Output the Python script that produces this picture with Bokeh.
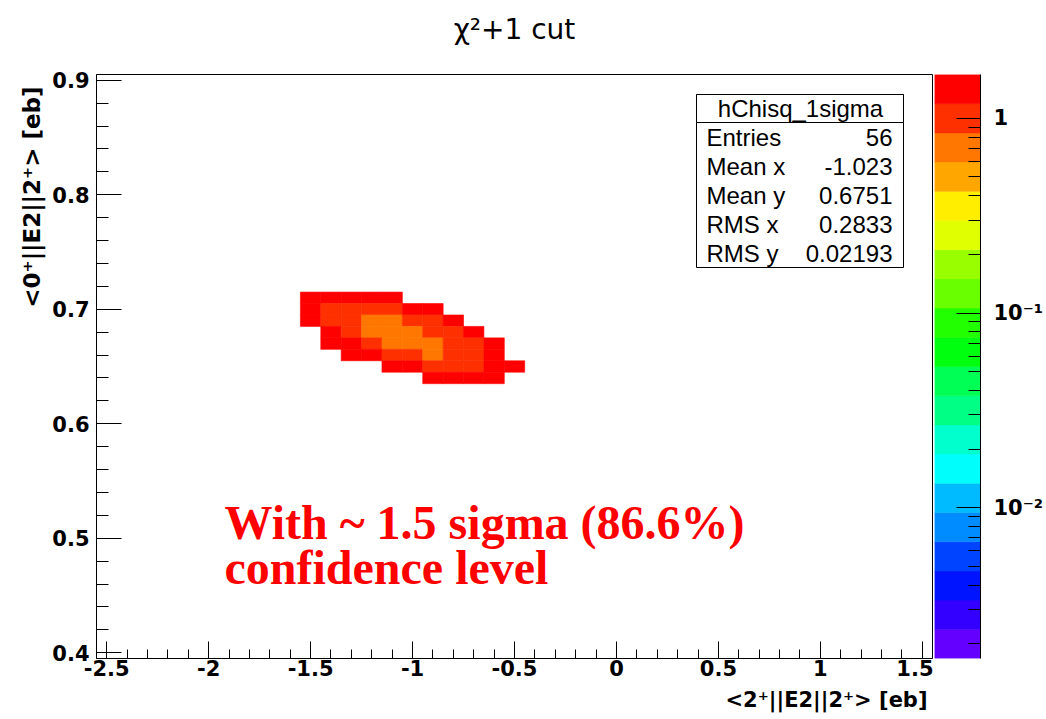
import numpy as np
from bokeh.plotting import figure
from bokeh.models import (Range1d, SingleIntervalTicker, LogTicker, CustomJSTickFormatter,
                          LogColorMapper, ColumnDataSource, Title, Label, BoxAnnotation)
from bokeh.transform import transform
from bokeh.layouts import row
from bokeh.embed import file_html
from bokeh.resources import INLINE

# ---------------- data ----------------
TITLE = "\u03c7\u00b2+1 cut"
X_LABEL = "<2\u207a||E2||2\u207a> [eb]"
Y_LABEL = "<0\u207a||E2||2\u207a> [eb]"
X_RANGE = [-2.55, 1.55]
Y_RANGE = [0.395, 0.905]
Z_RANGE = [0.00168, 1.68]
BIN_W = 0.1
BIN_H = 0.01

x_centers = [-1.5, -1.4, -1.3, -1.2, -1.1, -1.0, -0.9, -0.8, -0.7, -0.6, -0.5]
y_centers = [0.71, 0.70, 0.69, 0.68, 0.67, 0.66, 0.65, 0.64]
# bin contents (rows top -> bottom), 0 = empty bin
z_rows = [
    [1.4, 1.4, 1.4, 1.4, 1.4, 0,   0,   0,   0,   0,   0],
    [1.4, 1.0, 1.0, 1.0, 1.0, 1.4, 1.4, 0,   0,   0,   0],
    [1.4, 1.0, 1.0, 0.7, 0.7, 1.0, 1.0, 1.4, 0,   0,   0],
    [0,   1.4, 1.0, 0.7, 0.7, 0.7, 1.0, 1.0, 1.4, 0,   0],
    [0,   1.4, 1.4, 1.0, 0.7, 0.7, 0.7, 1.0, 1.0, 1.4, 0],
    [0,   0,   1.4, 1.4, 1.0, 1.0, 0.7, 1.0, 1.0, 1.4, 0],
    [0,   0,   0,   0,   1.4, 1.4, 1.0, 1.0, 1.0, 1.4, 1.4],
    [0,   0,   0,   0,   0,   0,   1.4, 1.4, 1.4, 1.4, 0],
]

STATS_NAME = "hChisq_1sigma"
stat_names = ["Entries", "Mean x", "Mean y", "RMS x", "RMS y"]
stat_values = ["56", "-1.023", "0.6751", "0.2833", "0.02193"]

NOTE_LINES = ["With ~ 1.5 sigma (86.6%)", "confidence level"]

# ROOT "pretty" palette, 20 contour colours, bottom -> top
PALETTE = ["#6300ff", "#3300ff", "#0014ff", "#0044ff", "#008bff", "#00bbff",
           "#00fffc", "#00ffcc", "#00ff85", "#00ff55", "#00ff0e", "#22ff00",
           "#69ff00", "#99ff00", "#e0ff00", "#ffee00", "#ffa700", "#ff7700",
           "#ff3000", "#ff0000"]

# ---------------- layout ----------------
W_MAIN, W_CB, H = 933, 113, 719
FR_L, FR_R, FR_T, FR_B = 96, 932, 74, 658


def dx(px):
    return X_RANGE[0] + (px - FR_L) / (FR_R - FR_L) * (X_RANGE[1] - X_RANGE[0])


def dy(py):
    return Y_RANGE[1] - (py - FR_T) / (FR_B - FR_T) * (Y_RANGE[1] - Y_RANGE[0])


p = figure(width=W_MAIN, height=H, x_range=Range1d(*X_RANGE), y_range=Range1d(*Y_RANGE),
           output_backend="svg", toolbar_location=None,
           min_border_left=FR_L, min_border_right=W_MAIN - FR_R,
           min_border_top=FR_T, min_border_bottom=H - FR_B)
p.grid.visible = False
p.outline_line_color = "black"
p.outline_line_width = 1
p.background_fill_color = "white"
p.border_fill_color = "white"

p.title.text = TITLE
p.title.align = "center"
p.title.vertical_align = "top"
p.title.text_font = "DejaVu Sans"
p.title.text_font_size = "28px"
p.title.text_font_style = "normal"
p.title.text_color = "black"
p.title.standoff = 0
# blank spacer between the title and the frame
p.add_layout(Title(text=" ", text_font_size="10px", standoff=14), "above")

fmt_code = "return (Math.round(tick*100)/100).toString();"
for ax, interval in ((p.xaxis[0], 0.5), (p.yaxis[0], 0.1)):
    ax.ticker = SingleIntervalTicker(interval=interval, num_minor_ticks=5)
    ax.formatter = CustomJSTickFormatter(code=fmt_code)
    ax.major_label_text_font = "DejaVu Sans"
    ax.major_label_text_font_style = "bold"
    ax.major_label_text_font_size = "21px"
    ax.major_label_text_color = "black"
    ax.axis_line_color = "black"
    ax.major_tick_line_color = "black"
    ax.minor_tick_line_color = "black"
    ax.major_tick_out = 0
    ax.minor_tick_out = 0

p.xaxis.major_tick_in = 17
p.xaxis.minor_tick_in = 9
p.xaxis.major_label_standoff = 1
p.yaxis.major_tick_in = 25
p.yaxis.minor_tick_in = 12
p.yaxis.major_label_standoff = 7

p.add_layout(Title(text=Y_LABEL, align="right", text_font="DejaVu Sans",
                   text_font_style="bold", text_font_size="23px", text_color="black",
                   standoff=9, offset=12), "left")
p.add_layout(Title(text=X_LABEL, align="right", text_font="DejaVu Sans",
                   text_font_style="bold", text_font_size="21px", text_color="black",
                   standoff=14, offset=5), "below")

# heat map
xs, ys, zs = [], [], []
for r, yc in enumerate(y_centers):
    for c, xc in enumerate(x_centers):
        if z_rows[r][c] > 0:
            xs.append(xc)
            ys.append(yc)
            zs.append(z_rows[r][c])
src = ColumnDataSource(dict(x=xs, y=ys, z=zs))
mapper = LogColorMapper(palette=PALETTE, low=Z_RANGE[0], high=Z_RANGE[1])
p.rect(x="x", y="y", width=BIN_W, height=BIN_H, source=src,
       fill_color=transform("z", mapper), line_color=transform("z", mapper), line_width=0.6)

# stats box
bl, br, bt, bsep, bb = dx(696), dx(903), dy(94), dy(122), dy(267)
p.add_layout(BoxAnnotation(left=bl, right=br, top=bt, bottom=bb, fill_color="white",
                           fill_alpha=1, line_color="black", line_width=1, line_alpha=1))
p.add_layout(BoxAnnotation(left=bl, right=br, top=bt, bottom=bsep, fill_color="white",
                           fill_alpha=1, line_color="black", line_width=1, line_alpha=1))
p.add_layout(Label(x=dx(800), y=dy(108), text=STATS_NAME, text_align="center",
                   text_baseline="middle", text_font="Liberation Sans",
                   text_font_size="24px", text_color="black"))
for i, (nm, vl) in enumerate(zip(stat_names, stat_values)):
    yy = dy(137 + 29 * i)
    p.add_layout(Label(x=dx(706), y=yy, text=nm, text_align="left", text_baseline="middle",
                       text_font="Liberation Sans", text_font_size="24px", text_color="black"))
    p.add_layout(Label(x=dx(892), y=yy, text=vl, text_align="right", text_baseline="middle",
                       text_font="Liberation Sans", text_font_size="24px", text_color="black"))

# red note
for i, line in enumerate(NOTE_LINES):
    p.add_layout(Label(x=dx(224), y=dy(522 + 45 * i), text=line, text_align="left",
                       text_baseline="alphabetic", text_font="Liberation Serif",
                       text_font_style="bold", text_font_size="48px", text_color="#ff0000"))

# ---------------- colour bar ----------------
cb = figure(width=W_CB, height=H, x_range=Range1d(0, 1), y_range=Range1d(*Z_RANGE),
            y_axis_type="log", y_axis_location="right", x_axis_location=None,
            output_backend="svg", toolbar_location=None,
            min_border_left=934 - W_MAIN, min_border_right=W_MAIN + W_CB - 982,
            min_border_top=FR_T, min_border_bottom=H - FR_B)
cb.grid.visible = False
cb.outline_line_color = None
cb.background_fill_color = "white"
cb.border_fill_color = "white"

n = len(PALETTE)
edges = Z_RANGE[0] * (Z_RANGE[1] / Z_RANGE[0]) ** (np.arange(n + 1) / n)
cb.quad(left=0, right=1, bottom=edges[:-1], top=edges[1:], fill_color=PALETTE,
        line_color=PALETTE, line_width=0.5)

cax = cb.yaxis[0]
cax.ticker = LogTicker(num_minor_ticks=10)
cax.formatter = CustomJSTickFormatter(code="""
const e = Math.round(Math.log10(tick));
if (e === 0) { return "1"; }
const sup = {"-": "\u207b", "0": "\u2070", "1": "\u00b9", "2": "\u00b2", "3": "\u00b3"};
let s = "10";
for (const ch of String(e)) { s += sup[ch]; }
return s;
""")
cax.major_label_text_font = "DejaVu Sans"
cax.major_label_text_font_style = "bold"
cax.major_label_text_font_size = "21px"
cax.major_label_text_color = "black"
cax.axis_line_color = "black"
cax.major_tick_line_color = "black"
cax.minor_tick_line_color = "black"
cax.major_tick_in = 24
cax.major_tick_out = 0
cax.minor_tick_in = 12
cax.minor_tick_out = 0
cax.major_label_standoff = 13

layout = row(p, cb)
open("out.html", "w", encoding="utf-8").write(file_html(layout, INLINE))
